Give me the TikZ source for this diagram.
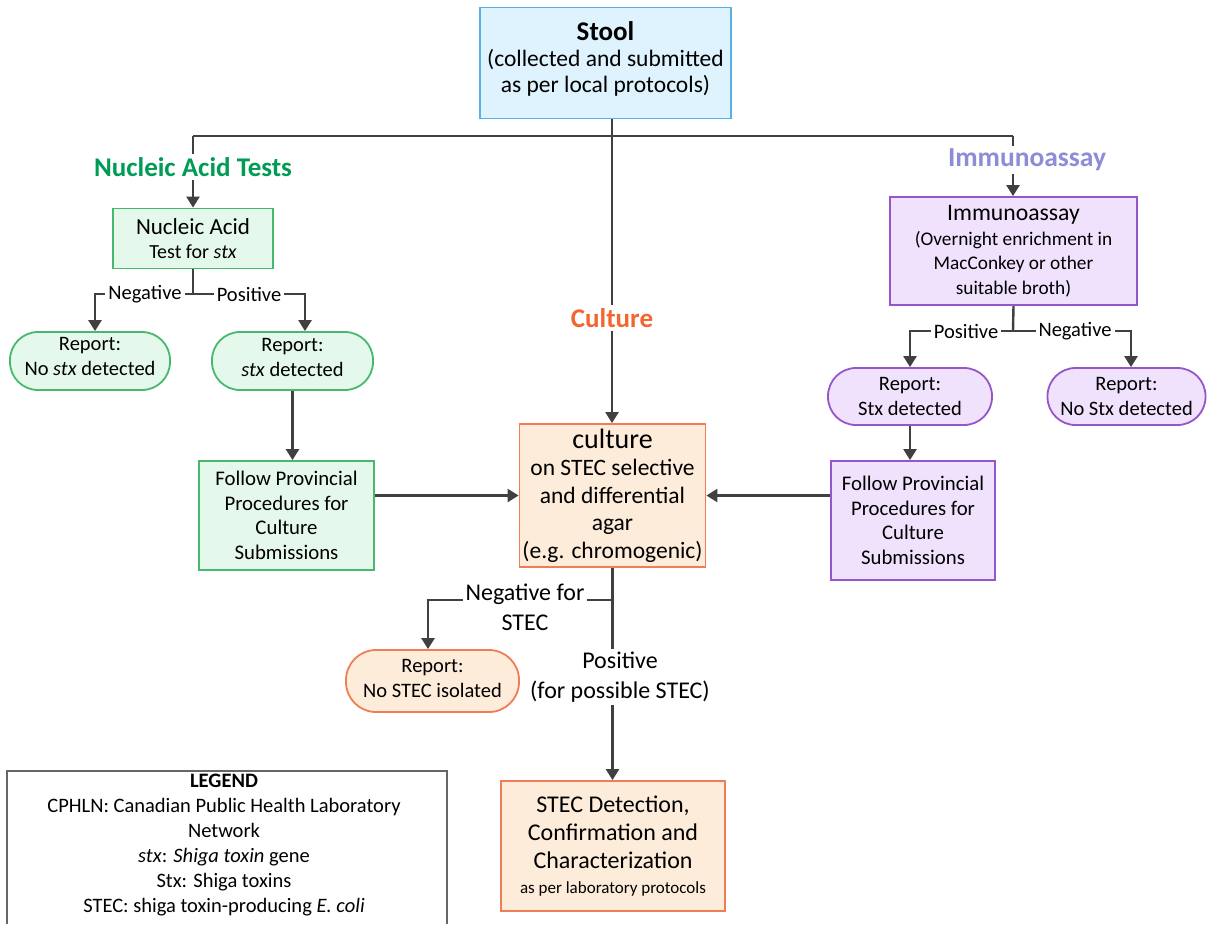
\documentclass[tikz,border=0pt]{standalone}
\usepackage{fontspec}
\setmainfont{Carlito}
\usetikzlibrary{arrows.meta}
\pgfdeclarelayer{bg}
\pgfsetlayers{bg,main}
\definecolor{stoolfill}{RGB}{222,243,253}
\definecolor{stooldraw}{RGB}{85,178,228}
\definecolor{grfill}{RGB}{229,248,236}
\definecolor{grdraw}{RGB}{70,185,110}
\definecolor{grtext}{RGB}{0,155,85}
\definecolor{orfill}{RGB}{253,236,218}
\definecolor{ordraw}{RGB}{240,125,85}
\definecolor{ortext}{RGB}{242,102,48}
\definecolor{pufill}{RGB}{240,226,252}
\definecolor{pudraw}{RGB}{150,85,200}
\definecolor{putext}{RGB}{140,140,215}
\definecolor{linec}{RGB}{64,64,64}
\newcommand\fsz[2]{\fontsize{#1}{#2}\selectfont}
\begin{document}
\begin{tikzpicture}[x=1pt,y=-1pt,
  conn/.style={draw=linec, line width=2.4pt},
  arr/.style={conn, -{Triangle[width=13pt,length=11pt]}},
  box/.style={rectangle, draw, line width=1.8pt, align=center, inner sep=0pt},
  rep/.style={box, rounded corners=28pt},
  lbl/.style={fill=white, inner sep=3pt, align=center},
  stoolbox/.style={box, draw=stooldraw, fill=stoolfill},
  grbox/.style={box, draw=grdraw, fill=grfill},
  orbox/.style={box, draw=ordraw, fill=orfill},
  pubox/.style={box, draw=pudraw, fill=pufill},
  grrep/.style={rep, draw=grdraw, fill=grfill},
  orrep/.style={rep, draw=ordraw, fill=orfill},
  purep/.style={rep, draw=pudraw, fill=pufill},
  reptext/.style={label={[align=center, font=\fsz{20.5}{25}, yshift=#1]center:\replabel}},
]
\useasboundingbox (0,0) rectangle (1207,924);

% boxes
\node[stoolbox, minimum width=251pt, minimum height=111pt,
  label={[align=center, font=\fsz{23.5}{26}, yshift=4pt]center:{{\fsz{27}{30}\bfseries Stool}\\(collected and submitted\\as per local protocols)}}] (stool) at (605.5,63) {};

\node[lbl, text=grtext, font=\fsz{27}{30}\bfseries] (nat) at (193,167) {Nucleic Acid Tests};
\node[grbox, minimum width=160pt, minimum height=60pt, font=\fsz{20}{24}] (na) at (193,238.5)
  {{\fsz{23}{24}Nucleic Acid}\\Test for \textit{stx}};
\node[lbl, font=\fsz{20.5}{24}] (nneg) at (145,294) {Negative};
\node[lbl, font=\fsz{20.5}{24}] (npos) at (249,294) {Positive};
\node[grrep, minimum width=160pt, minimum height=58pt,
  label={[align=center, font=\fsz{20.5}{25}, yshift=5pt]center:{Report:\\No \textit{stx} detected}}] (rnostx) at (90,361) {};
\node[grrep, minimum width=161pt, minimum height=58pt,
  label={[align=center, font=\fsz{20.5}{25}, yshift=4pt]center:{Report:\\\textit{stx} detected}}] (rstx) at (292.5,361) {};
\node[grbox, minimum width=175pt, minimum height=109pt, font=\fsz{20.8}{24.5}] (followL) at (286.5,515.5)
  {Follow Provincial\\Procedures for\\Culture\\Submissions};

\node[lbl, text=ortext, font=\fsz{27}{30}\bfseries] (cul) at (612,318) {Culture};
\node[orbox, minimum width=186pt, minimum height=143pt, font=\fsz{23.5}{27.5}] (culture) at (612.5,495.5)
  {{\fsz{28}{28}culture}\\on STEC selective\\and differential\\agar\\(e.g. chromogenic)};

\node[lbl, text=putext, font=\fsz{27.5}{30}\bfseries] (ial) at (1027,160) {Immunoassay};
\node[pubox, minimum width=247pt, minimum height=108pt, font=\fsz{19.3}{24.5}] (ia) at (1013.5,251)
  {{\fsz{23.7}{26}Immunoassay}\\(Overnight enrichment in\\MacConkey or other\\suitable broth)};
\node[lbl, font=\fsz{20.5}{24}] (ipos) at (966,331) {Positive};
\node[lbl, font=\fsz{20.5}{24}] (ineg) at (1075,331) {Negative};
\node[purep, minimum width=164pt, minimum height=57pt, font=\fsz{20.5}{24.5}] (rStx) at (910,396.5)
  {Report:\\Stx detected};
\node[purep, minimum width=158pt, minimum height=57pt, font=\fsz{20.5}{24.5}] (rNoStx) at (1126.5,396.5)
  {Report:\\No Stx detected};
\node[pubox, minimum width=164pt, minimum height=119pt, font=\fsz{20.8}{24.5}] (followR) at (913,520.5)
  {Follow Provincial\\Procedures for\\Culture\\Submissions};

\node[lbl, font=\fsz{24}{30}] (nsl) at (525,607) {Negative for\\STEC};
\node[orrep, minimum width=173pt, minimum height=62pt, rounded corners=30pt,
  label={[align=center, font=\fsz{20.5}{25}, yshift=3pt]center:{Report:\\No STEC isolated}}] (rNoSTEC) at (432.5,681) {};
\node[lbl, font=\fsz{24}{30}] (psl) at (620,677) {Positive\\(for possible STEC)};
\node[orbox, minimum width=224pt, minimum height=130pt, font=\fsz{24}{28}] (stec) at (613,846)
  {STEC Detection,\\Confirmation and\\Characterization\\[-3pt]{\fsz{17}{22}as per laboratory protocols}};

% legend
\node[align=center, font=\fsz{20.5}{25}] (leg) at (224,845.5)
  {\textbf{LEGEND}\\CPHLN: Canadian Public Health Laboratory\\Network\\\textit{stx}: \textit{Shiga toxin} gene\\Stx: Shiga toxins\\STEC: shiga toxin-producing \textit{E.\ coli}};
\coordinate (lgA) at (7,924);
\coordinate (lgB) at (7,771);
\coordinate (lgC) at (447,771);
\coordinate (lgD) at (447,924);
\draw[draw=linec!80, line width=1.5pt] (lgA) -- (lgB) -- (lgC) -- (lgD);

% connectors
\coordinate (hb) at (612,136);
\coordinate (hl) at (193,136);
\coordinate (hr) at (1013,136);
\coordinate (nab) at (193,294);
\coordinate (nbl) at (95,294);
\coordinate (nbr) at (305,294);
\coordinate (iab) at (1013,331);
\coordinate (ibl) at (910,331);
\coordinate (ibr) at (1131,331);
\coordinate (cb) at (612,600);
\coordinate (cl) at (428,600);
\begin{pgfonlayer}{bg}
\draw[conn] (hb |- stool.south) -- (hb);
\draw[conn] (hl) -- (hr);
\draw[arr] (hl) -- (hl |- na.north);
\draw[arr] (hb) -- (hb |- culture.north);
\draw[arr] (hr) -- (hr |- ia.north);
\draw[conn] (na.south) -- (nab);
\draw[arr] (nab) -- (nbl) -- (nbl |- rnostx.north);
\draw[arr] (nab) -- (nbr) -- (nbr |- rstx.north);
\draw[arr] (rstx.south) -- (rstx.south |- followL.north);
\draw[arr] (followL.east |- culture.west) -- (culture.west);
\draw[arr] (followR.west |- culture.east) -- (culture.east);
\draw[conn] (ia.south) -- (iab);
\draw[arr] (iab) -- (ibl) -- (ibl |- rStx.north);
\draw[arr] (iab) -- (ibr) -- (ibr |- rNoStx.north);
\draw[arr] (rStx.south) -- (rStx.south |- followR.north);
\draw[arr] (culture.south) -- (culture.south |- stec.north);
\draw[arr] (cb) -- (cl) -- (cl |- rNoSTEC.north);
\end{pgfonlayer}
\end{tikzpicture}
\end{document}
